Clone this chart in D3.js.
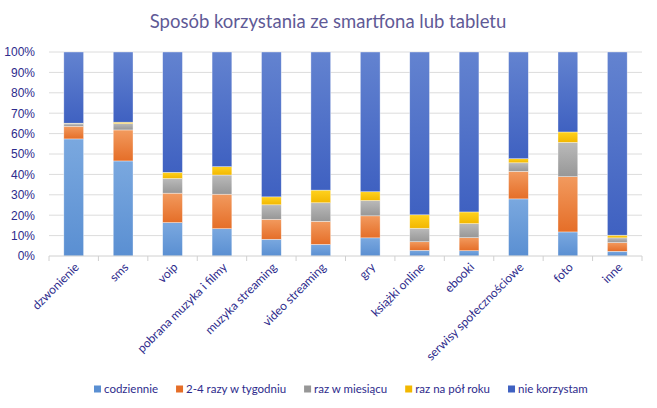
<!doctype html>
<meta charset="utf-8">
<style>
  body { margin: 0; background: #fff; }
  svg { font-family: Lato, "Open Sans", sans-serif; }
  .title { font-size: 18.5px; fill: #5f5a96; text-anchor: middle; }
  .axis text { fill: #2e2b8c; font-size: 12px; }
  .legend text { fill: #2e2b8c; font-size: 11.5px; }
</style>
<svg id="chart" width="657" height="408"></svg>
<script src="https://d3js.org/d3.v7.min.js"></script>
<script>
  const categories = ["dzwonienie", "sms", "voip", "pobrana muzyka i filmy", "muzyka streaming",
    "video streaming", "gry", "książki online", "ebooki", "serwisy społecznościowe", "foto", "inne"];
  const seriesNames = ["codziennie", "2-4 razy w tygodniu", "raz w miesiącu", "raz na pół roku", "nie korzystam"];
  const codziennie = [57.4, 46.6, 16.4, 13.4, 8.2, 5.7, 8.9, 2.8, 2.6, 28.0, 11.8, 2.3];
  const razyTydzien = [6.2, 15.2, 14.4, 16.9, 9.8, 11.3, 10.8, 4.2, 6.4, 13.5, 27.1, 4.3];
  const razMiesiac = [1.2, 3.1, 7.2, 9.4, 7.1, 9.1, 7.5, 6.6, 6.9, 4.2, 16.8, 2.3];
  const razPolRoku = [0.3, 0.7, 3.0, 4.1, 3.9, 6.2, 4.3, 6.6, 5.7, 2.0, 5.1, 1.3];
  const nieKorzystam = [34.9, 34.4, 59.0, 56.2, 71.0, 67.7, 68.5, 79.8, 78.4, 52.3, 39.2, 89.8];
  const yTicks = [0, 10, 20, 30, 40, 50, 60, 70, 80, 90, 100];
  const colors = [["#7aa8df", "#5a8fd2"], ["#f29a5e", "#e56e28"], ["#bababa", "#979797"],
    ["#ffd21f", "#f2b700"], ["#6383d0", "#3f61c1"]];

  const svg = d3.select("#chart");
  const margin = {left: 49, right: 15, top: 52, bottom: 152};
  const W = 657, H = 408;

  const rows = categories.map((c, i) => {
    const r = {cat: c};
    [codziennie, razyTydzien, razMiesiac, razPolRoku, nieKorzystam].forEach((s, k) => r[seriesNames[k]] = s[i]);
    return r;
  });
  const stacked = d3.stack().keys(seriesNames)(rows);

  const x = d3.scaleBand().domain(categories).range([margin.left, W - margin.right]).paddingInner(0.6).paddingOuter(0.3);
  const xb = d3.scaleBand().domain(categories).range([margin.left, W - margin.right]);
  const y = d3.scaleLinear().domain([0, 100]).range([H - margin.bottom, margin.top]);

  // gradients
  const defs = svg.append("defs");
  colors.forEach((c, k) => {
    const g = defs.append("linearGradient").attr("id", "g" + k).attr("x1", 0).attr("y1", 0).attr("x2", 0).attr("y2", 1);
    g.append("stop").attr("offset", "0%").attr("stop-color", c[0]);
    g.append("stop").attr("offset", "100%").attr("stop-color", c[1]);
  });

  svg.append("text").attr("class", "title").attr("x", 328).attr("y", 28)
    .text("Sposób korzystania ze smartfona lub tabletu");

  // grid
  svg.append("g").selectAll("line").data(yTicks.slice(1)).join("line")
    .attr("x1", margin.left).attr("x2", W - margin.right)
    .attr("y1", d => y(d)).attr("y2", d => y(d))
    .attr("stroke", "#dcdcdc").attr("stroke-width", 1);

  // y axis
  const yAxis = svg.append("g").attr("class", "axis").attr("transform", `translate(${margin.left - 11},0)`)
    .call(d3.axisLeft(y).tickValues(yTicks).tickFormat(d => d + "%").tickSize(0));
  yAxis.select(".domain").remove();

  // bars
  svg.append("g").selectAll("g").data(stacked).join("g")
    .attr("fill", (d, k) => `url(#g${k})`)
    .selectAll("rect").data(d => d).join("rect")
    .attr("x", d => x(d.data.cat))
    .attr("width", x.bandwidth())
    .attr("y", d => y(d[1]))
    .attr("height", d => y(d[0]) - y(d[1]))
    .attr("stroke", "#ffffff").attr("stroke-opacity", 0.6).attr("stroke-width", 0.6);

  // x axis
  const xAxis = svg.append("g").attr("class", "axis").attr("transform", `translate(0,${y(0)})`);
  xAxis.append("line").attr("x1", margin.left).attr("x2", W - margin.right)
    .attr("stroke", "#d0d0d0");
  xAxis.selectAll("line.tk").data(categories.concat(["_end"])).join("line").attr("class", "tk")
    .attr("x1", (d, i) => margin.left + i * xb.step()).attr("x2", (d, i) => margin.left + i * xb.step())
    .attr("y1", 0).attr("y2", 5).attr("stroke", "#d0d0d0");
  xAxis.selectAll("text").data(categories).join("text")
    .attr("transform", d => `translate(${x(d) + x.bandwidth() / 2 + 3},${9}) rotate(-45)`)
    .attr("text-anchor", "end").attr("dy", "0.35em")
    .text(d => d);

  // legend
  const legend = svg.append("g").attr("class", "legend");
  let lx = 94;
  seriesNames.forEach((name, k) => {
    legend.append("rect").attr("x", lx).attr("y", 385.5).attr("width", 7).attr("height", 7).attr("fill", colors[k][1]);
    const t = legend.append("text").attr("x", lx + 10).attr("y", 389).attr("dy", "0.35em").text(name);
    lx += 10 + t.node().getComputedTextLength() + 18;
  });
</script>
